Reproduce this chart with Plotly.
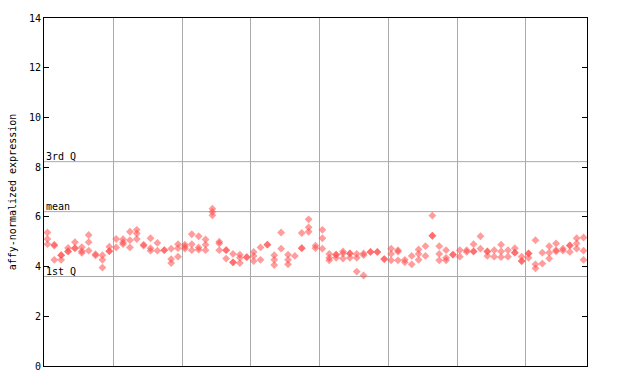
import plotly.graph_objects as go

# values per sample column (affy-normalized expression), columns 1..79
sample_values = [
    [5.37, 5.11, 4.90], [4.88, 4.84, 4.27], [4.46, 4.46, 4.27], [4.75, 4.61, 4.61],
    [4.98, 4.74, 4.74], [4.78, 4.62, 4.55], [5.27, 4.98, 4.64], [4.50, 4.45],
    [4.46, 4.27, 3.96], [4.80, 4.62, 4.62], [5.11, 4.77], [5.10, 4.97, 4.90],
    [5.40, 5.06, 4.77], [5.48, 5.33, 5.11], [4.88, 4.84], [5.14, 4.74, 4.64],
    [4.95, 4.64], [4.66, 4.66], [4.72, 4.30, 4.14], [4.90, 4.74, 4.40],
    [4.88, 4.80, 4.72], [5.30, 4.90, 4.66], [5.22, 4.77, 4.68], [5.09, 4.88, 4.66],
    [6.33, 6.20, 6.06], [5.00, 4.93, 4.66], [4.66, 4.66, 4.32], [4.51, 4.17, 4.17],
    [4.48, 4.35, 4.14], [4.38, 4.38], [4.59, 4.43, 4.22], [4.77, 4.27],
    [4.88, 4.88], [4.46, 4.27, 4.06], [5.37, 4.72], [4.48, 4.27, 4.09],
    [4.43], [5.35, 4.74, 4.74], [5.90, 5.58, 5.40], [4.84, 4.74],
    [5.48, 5.14, 4.72], [4.51, 4.35, 4.25], [4.48, 4.48, 4.35], [4.61, 4.53, 4.32],
    [4.53, 4.53, 4.35], [4.51, 4.35, 3.80], [4.53, 4.46, 3.64], [4.59, 4.59],
    [4.59, 4.59], [4.30, 4.30], [4.72, 4.51, 4.25], [4.66, 4.60, 4.25],
    [4.27, 4.17], [4.43, 4.09], [4.69, 4.51, 4.27], [4.82, 4.43],
    [6.05, 5.24, 5.24], [4.82, 4.51, 4.25], [4.66, 4.35, 4.25], [4.48, 4.48],
    [4.66, 4.40], [4.66, 4.59], [4.90, 4.61, 4.61], [5.22, 4.72],
    [4.61, 4.61, 4.43], [4.66, 4.40], [4.88, 4.61, 4.38], [4.66, 4.40],
    [4.74, 4.56, 4.56], [4.40, 4.22, 4.22], [4.53, 4.53, 4.35], [5.06, 4.09, 3.93],
    [4.56, 4.12], [4.82, 4.56, 4.32], [4.93, 4.66, 4.61], [4.72, 4.64],
    [4.85, 4.85, 4.59], [5.14, 4.93, 4.72], [5.17, 4.64, 4.27],
]

quartile_labels = ["1st Q", "mean", "3rd Q"]
quartile_values = [3.60, 6.21, 8.22]
y_ticks = [0, 2, 4, 6, 8, 10, 12, 14]
group_boundaries = [10.1, 20.1, 30.1, 40.1, 50.1, 60.1, 70.1]

xs, ys = [], []
for i, vals in enumerate(sample_values):
    for v in vals:
        xs.append(i + 0.5)
        ys.append(v)

fig = go.Figure()
fig.add_trace(go.Scatter(
    x=xs, y=ys, mode="markers",
    marker=dict(symbol="diamond", size=6, color="#ff4a4a", opacity=0.55,
                line=dict(width=0)),
    hoverinfo="y", showlegend=False,
))

for lab, v in zip(quartile_labels, quartile_values):
    fig.add_shape(type="line", xref="x", yref="y", x0=0, x1=len(sample_values),
                  y0=v, y1=v, line=dict(color="#aaaaaa", width=1), layer="below")
    fig.add_annotation(x=0, y=v, xref="x", yref="y", text=lab, showarrow=False,
                       xanchor="left", yanchor="bottom", xshift=0, yshift=-2,
                       font=dict(family="DejaVu Sans Mono", size=10, color="black"))

fig.update_layout(
    width=640, height=384,
    margin=dict(l=44, r=53, t=13, b=15),
    paper_bgcolor="white", plot_bgcolor="white",
    font=dict(family="DejaVu Sans Mono", size=10, color="black"),
    xaxis=dict(range=[0, len(sample_values)], tickvals=group_boundaries,
               showticklabels=False, ticks="", showgrid=True, gridcolor="#aaaaaa",
               gridwidth=1, showline=True, linecolor="black", linewidth=1,
               mirror=True, zeroline=False, fixedrange=True),
    yaxis=dict(range=[0, 14], tickvals=y_ticks, ticks="inside", ticklen=5,
               tickcolor="black", showgrid=False, showline=True, linecolor="black",
               linewidth=1, mirror="ticks", zeroline=False,
               title=dict(text="affy-normalized expression", standoff=10,
                          font=dict(family="DejaVu Sans Mono", size=10)),
               tickfont=dict(family="DejaVu Sans Mono", size=10)),
)

fig.write_html("out.html")
